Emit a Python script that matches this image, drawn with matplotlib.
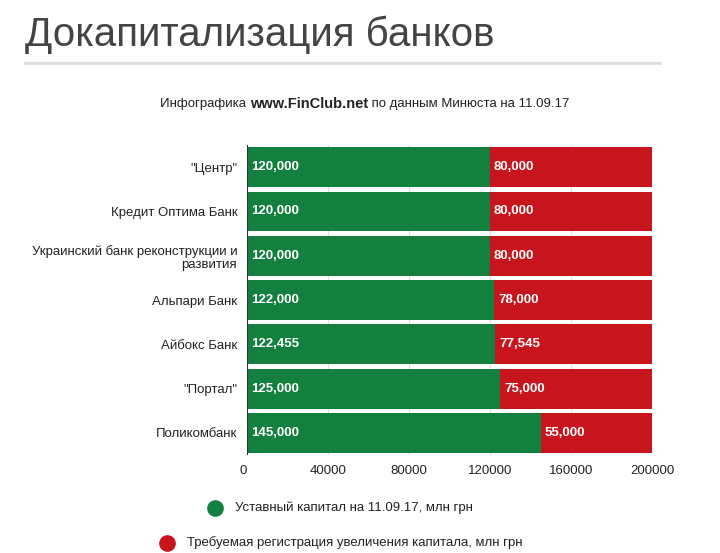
import matplotlib.pyplot as plt
from matplotlib.lines import Line2D

plt.rcParams["font.family"] = "Liberation Sans"

banks = ['"Центр"', "Кредит Оптима Банк", "Украинский банк реконструкции и\nразвития",
         "Альпари Банк", "Айбокс Банк", '"Портал"', "Поликомбанк"]
capital = [120000, 120000, 120000, 122000, 122455, 125000, 145000]
required = [80000, 80000, 80000, 78000, 77545, 75000, 55000]
cap_labels = ["120,000", "120,000", "120,000", "122,000", "122,455", "125,000", "145,000"]
req_labels = ["80,000", "80,000", "80,000", "78,000", "77,545", "75,000", "55,000"]
xticks = [0, 40000, 80000, 120000, 160000, 200000]

GREEN = "#13803f"
RED = "#c8141c"

fig = plt.figure(figsize=(7.2, 5.53), dpi=100)
ax = fig.add_axes([247 / 720, 1 - 455 / 553, 405 / 720, 310 / 553])

y = list(range(len(banks)))
ax.barh(y, capital, height=0.9, color=GREEN)
ax.barh(y, required, left=capital, height=0.9, color=RED)
for i in y:
    ax.text(2000, i, cap_labels[i], color="white", fontsize=9.5, fontweight="bold", va="center")
    ax.text(capital[i] + 2000, i, req_labels[i], color="white", fontsize=9.5, fontweight="bold", va="center")

ax.set_xlim(0, 200000)
ax.set_ylim(len(banks) - 0.5, -0.5)
ax.set_yticks(y)
ax.set_yticklabels(banks, fontsize=9.5, color="#222222")
ax.set_xticks(xticks)
ax.set_xticklabels([str(v) for v in xticks], fontsize=9.5, color="#222222")
ax.xaxis.get_majorticklabels()[0].set_horizontalalignment("right")
ax.tick_params(length=0, pad=7)
ax.grid(axis="x", color="#e0e0e0", linewidth=0.8)
ax.set_axisbelow(True)
for s in ax.spines.values():
    s.set_visible(False)
ax.axvline(0, color="#333333", linewidth=0.8)

fig.text(25 / 720, 1 - 35 / 553, "Докапитализация банков", fontsize=29, color="#444444", va="center")
fig.add_artist(Line2D([25 / 720, 660 / 720], [1 - 63 / 553] * 2, color="#dddddd", linewidth=2))

# subtitle made of three pieces, placed one after another
sub_y = 1 - 104 / 553
pieces = [("Инфографика ", "normal", 9.5), ("www.FinClub.net", "bold", 10.5), (" по данным Минюста на 11.09.17", "normal", 9.5)]
fig.canvas.draw()
renderer = fig.canvas.get_renderer()
texts, widths = [], []
for s, w, fs in pieces:
    t = fig.text(0, sub_y, s, fontsize=fs, fontweight=w, va="center", color="#222222")
    texts.append(t)
    widths.append(t.get_window_extent(renderer).width / 720)
x0 = 0.5 - sum(widths) / 2 + 5 / 720
for t, w in zip(texts, widths):
    t.set_x(x0)
    x0 += w

fig.add_artist(Line2D([215 / 720], [1 - 508 / 553], marker="o", markersize=11, color=GREEN))
fig.text(235 / 720, 1 - 508 / 553, "Уставный капитал на 11.09.17, млн грн", fontsize=9.5, va="center", color="#222222")
fig.add_artist(Line2D([167 / 720], [1 - 543 / 553], marker="o", markersize=11, color=RED))
fig.text(187 / 720, 1 - 543 / 553, "Требуемая регистрация увеличения капитала, млн грн", fontsize=9.5, va="center", color="#222222")

fig.savefig("out.png", dpi=100)
